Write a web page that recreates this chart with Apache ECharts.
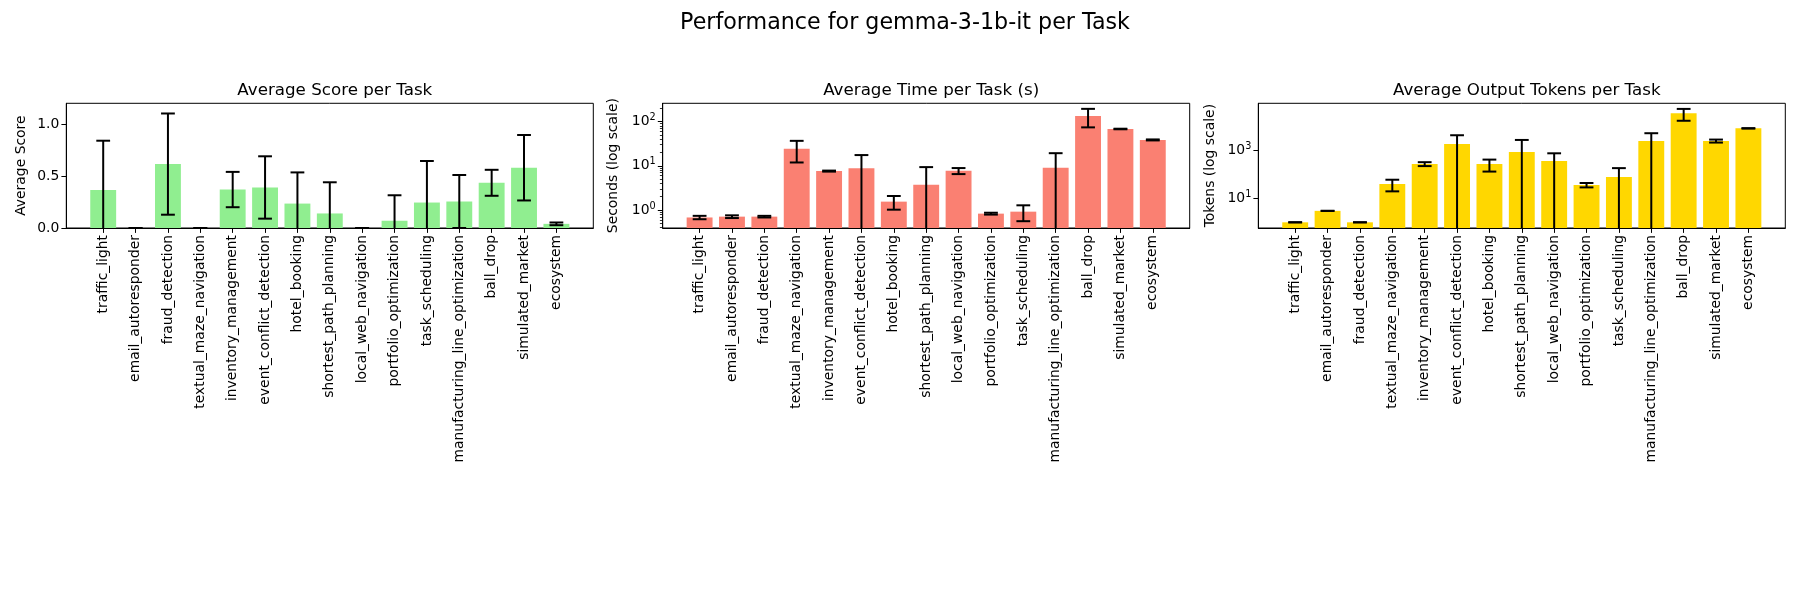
<!DOCTYPE html>
<html>
<head>
<meta charset="utf-8">
<title>Performance for gemma-3-1b-it per Task</title>
<script src="https://cdn.jsdelivr.net/npm/echarts@6/dist/echarts.min.js"></script>
<style>
  html, body { margin: 0; padding: 0; background: #fff; }
  #chart { width: 1800px; height: 600px; }
</style>
</head>
<body>
<div id="chart"></div>
<script>
const tasks = [
  'traffic_light', 'email_autoresponder', 'fraud_detection', 'textual_maze_navigation',
  'inventory_management', 'event_conflict_detection', 'hotel_booking', 'shortest_path_planning',
  'local_web_navigation', 'portfolio_optimization', 'task_scheduling',
  'manufacturing_line_optimization', 'ball_drop', 'simulated_market', 'ecosystem'
];

const scoreMean = [0.365, 0, 0.615, 0, 0.37, 0.39, 0.235, 0.14, 0, 0.07, 0.245, 0.255, 0.435, 0.58, 0.04];
const scoreStd = [0.475, 0, 0.487, 0, 0.17, 0.30, 0.30, 0.30, 0, 0.245, 0.40, 0.255, 0.125, 0.315, 0.013];

const timeMean = [0.68, 0.71, 0.71, 24.3, 7.6, 8.8, 1.55, 3.75, 7.7, 0.83, 0.92, 9.0, 134, 68, 38.5];
const timeStd = [0.06, 0.05, 0.03, 12.4, 0.2, 8.7, 0.53, 5.6, 1.2, 0.04, 0.36, 10.3, 60, 1, 1];

const tokenMean = [1, 3, 1, 39.5, 270, 1840, 270, 850, 360, 36, 77, 2450, 35000, 2450, 8200];
const tokenStd = [0, 0, 0, 20, 50, 2400, 140, 1850, 390, 7.5, 104, 2700, 18000, 350, 150];

const scoreTicks = [0, 0.5, 1.0];
const timeTicks = [1, 10, 100];
const timeMinorTicks = [0.4, 0.5, 0.6, 0.7, 0.8, 0.9, 2, 3, 4, 5, 6, 7, 8, 9, 20, 30, 40, 50, 60, 70, 80, 90, 200];
const tokenTicks = [10, 1000];

const FONT = 'DejaVu Sans';
const PX = 13.9; // 10pt

// matplotlib bar layout: bars at 0..n-1, width 0.8, 5% margins
const taskIdx = tasks.map((t, i) => i);
const xPad = 0.4 + 0.05 * (tasks.length - 1 + 0.8);
const xMin = -xPad, xMax = tasks.length - 1 + xPad;

const plotTop = 103.3, plotH = 124.7, plotW = 527;
const plotLefts = [66.3, 662.7, 1258.3];

function clampY(y, cs) {
  if (!isFinite(y)) return cs.y + cs.height;
  return Math.max(cs.y, Math.min(cs.y + cs.height, y));
}

function barRender(color) {
  return function (params, api) {
    const cs = params.coordSys;
    const i = api.value(0), v = api.value(1);
    const a = api.coord([i - 0.4, v]);
    const b = api.coord([i + 0.4, v]);
    const top = clampY(a[1], cs);
    const bottom = cs.y + cs.height;
    return {
      type: 'rect',
      shape: { x: a[0], y: top, width: b[0] - a[0], height: bottom - top },
      style: { fill: color }
    };
  };
}

function errRender(params, api) {
  const cs = params.coordSys;
  const i = api.value(0), m = api.value(1), s = api.value(2);
  const hi = api.coord([i, m + s]);
  const lo = api.coord([i, m - s]);
  const xc = hi[0];
  const yHi = clampY(hi[1], cs);
  const yLo = clampY(lo[1], cs);
  const cap = 6.9;
  const style = { stroke: '#000', lineWidth: 2 };
  const children = [
    { type: 'line', shape: { x1: xc, y1: yHi, x2: xc, y2: yLo }, style: style }
  ];
  if (hi[1] >= cs.y - 0.5 && hi[1] <= cs.y + cs.height + 0.5) {
    children.push({ type: 'line', shape: { x1: xc - cap, y1: yHi, x2: xc + cap, y2: yHi }, style: style });
  }
  if (isFinite(lo[1]) && lo[1] >= cs.y - 0.5 && lo[1] <= cs.y + cs.height + 0.5) {
    children.push({ type: 'line', shape: { x1: xc - cap, y1: yLo, x2: xc + cap, y2: yLo }, style: style });
  }
  return { type: 'group', children: children };
}

function xAxisFor(gridIndex) {
  return {
    type: 'value', gridIndex: gridIndex, min: xMin, max: xMax,
    axisLine: { show: true, onZero: false, lineStyle: { color: '#000', width: 1 } },
    axisTick: { show: true, customValues: taskIdx, length: 4.9, lineStyle: { color: '#000', width: 1 } },
    axisLabel: {
      customValues: taskIdx, rotate: 90, margin: 7,
      formatter: v => tasks[Math.round(v)],
      fontSize: PX, color: '#000', fontFamily: FONT
    },
    splitLine: { show: false }
  };
}

const logRich = {
  b: { fontSize: PX, color: '#000', fontFamily: FONT },
  s: { fontSize: 9.7, color: '#000', fontFamily: FONT, padding: [0, 0, 8, 0] }
};
const logLabel = v => '{b|10}{s|' + Math.round(Math.log10(v)) + '}';

function yName(text, gap) {
  return {
    name: text, nameLocation: 'middle', nameGap: gap, nameRotate: 90,
    nameTextStyle: { fontSize: PX, color: '#000', fontFamily: FONT }
  };
}

const grids = plotLefts.map(l => ({
  left: l, top: plotTop, width: plotW, height: plotH,
  show: true, borderColor: '#000', borderWidth: 1, backgroundColor: 'transparent',
  outerBoundsMode: 'none'
}));

const yAxes = [
  Object.assign({
    type: 'value', gridIndex: 0, min: 0, max: 1.2, position: 'left',
    axisLine: { show: true, onZero: false, lineStyle: { color: '#000', width: 1 } },
    axisTick: { show: true, customValues: scoreTicks, length: 4.9, lineStyle: { color: '#000' } },
    axisLabel: { customValues: scoreTicks, formatter: v => v.toFixed(1), fontSize: PX, color: '#000', fontFamily: FONT, margin: 7 },
    splitLine: { show: false }
  }, yName('Average Score', 38)),
  Object.assign({
    type: 'log', logBase: 10, gridIndex: 1, min: 0.393, max: 259, position: 'left',
    axisLine: { show: true, onZero: false, lineStyle: { color: '#000', width: 1 } },
    axisTick: { show: true, customValues: timeTicks, length: 4.9, lineStyle: { color: '#000' } },
    axisLabel: { customValues: timeTicks, formatter: logLabel, rich: logRich, margin: 7 },
    splitLine: { show: false }
  }, yName('Seconds (log scale)', 42)),
  {
    // minor ticks of the time axis
    type: 'log', logBase: 10, gridIndex: 1, min: 0.393, max: 259, position: 'left',
    axisLine: { show: false, onZero: false },
    axisTick: { show: true, customValues: timeMinorTicks, length: 2.8, lineStyle: { color: '#000', width: 0.8 } },
    axisLabel: { show: false },
    splitLine: { show: false }
  },
  Object.assign({
    type: 'log', logBase: 10, gridIndex: 2, min: 0.58, max: 90800, position: 'left',
    axisLine: { show: true, onZero: false, lineStyle: { color: '#000', width: 1 } },
    axisTick: { show: true, customValues: tokenTicks, length: 4.9, lineStyle: { color: '#000' } },
    axisLabel: { customValues: tokenTicks, formatter: logLabel, rich: logRich, margin: 7 },
    splitLine: { show: false }
  }, yName('Tokens (log scale)', 41))
];

function panelSeries(gridIndex, yAxisIndex, mean, std, color) {
  return [
    {
      type: 'custom', xAxisIndex: gridIndex, yAxisIndex: yAxisIndex,
      renderItem: barRender(color),
      encode: { x: 0, y: 1 },
      data: mean.map((v, i) => [i, v]),
      z: 2
    },
    {
      type: 'custom', xAxisIndex: gridIndex, yAxisIndex: yAxisIndex,
      renderItem: errRender,
      encode: { x: 0, y: 1 },
      data: mean.map((v, i) => [i, v, std[i]]),
      z: 3
    }
  ];
}

const subTitles = ['Average Score per Task', 'Average Time per Task (s)', 'Average Output Tokens per Task'];

const option = {
  backgroundColor: '#fff',
  animation: false,
  title: [
    {
      text: 'Performance for gemma-3-1b-it per Task',
      left: 900, top: 7, textAlign: 'center',
      textStyle: { fontSize: 22.2, fontWeight: 'normal', color: '#000', fontFamily: FONT }
    }
  ].concat(subTitles.map((t, k) => ({
    text: t, left: plotLefts[k] + plotW / 2, top: 77, textAlign: 'center',
    textStyle: { fontSize: 16.7, fontWeight: 'normal', color: '#000', fontFamily: FONT }
  }))),
  grid: grids,
  xAxis: [xAxisFor(0), xAxisFor(1), xAxisFor(2)],
  yAxis: yAxes,
  series: [].concat(
    panelSeries(0, 0, scoreMean, scoreStd, '#90EE90'),
    panelSeries(1, 1, timeMean, timeStd, '#FA8072'),
    panelSeries(2, 3, tokenMean, tokenStd, '#FFD700')
  )
};

const chart = echarts.init(document.getElementById('chart'));
chart.setOption(option);
</script>
</body>
</html>
